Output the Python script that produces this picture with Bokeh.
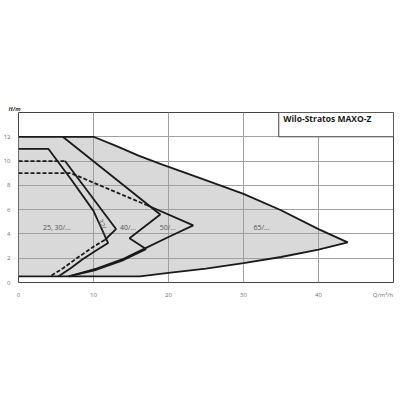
from bokeh.plotting import figure
from bokeh.models import Range1d, FixedTicker, Title
from bokeh.core.properties import value
from bokeh.embed import file_html
from bokeh.resources import INLINE

# Envelope of the whole range (grey area)
env_q = [0, 0, 10, 13, 16, 19, 24.4, 30, 35, 40, 43.9, 40, 35, 30, 25, 20, 16.2, 0]
env_h = [0.5, 12, 12, 11.25, 10.45, 9.75, 8.55, 7.3, 5.95, 4.4, 3.3, 2.7, 2.1, 1.6, 1.15, 0.8, 0.5, 0.5]

# 25, 30/... (Hmax 11)
c25_q = [0, 4, 7, 10, 11.95, 10.5, 8.5, 7, 5.3]
c25_h = [11, 11, 8.5, 5.9, 3.25, 2.7, 1.9, 1.2, 0.5]

# 32/... (Hmax 10)
c32_top_q = [0, 6.2]
c32_top_h = [10, 10]
c32_mid_q = [6.2, 13, 11.5]
c32_mid_h = [10, 4.4, 3.5]
c32_low_q = [11.5, 10, 8, 6, 4.2]
c32_low_h = [3.5, 2.95, 2.1, 1.2, 0.5]

# 40/... (Hmax 12)
c40_q = [5.9, 18.9, 14.8, 17, 14, 10.4, 6.7]
c40_h = [12, 5.6, 3.65, 2.75, 1.85, 1.05, 0.5]

# 50/... (Hmax 9)
c50_top_q = [0, 7, 17]
c50_top_h = [9, 9, 6.4]
c50_q = [17, 23.3, 20, 17, 14, 10.4, 6.7]
c50_h = [6.4, 4.7, 3.75, 2.85, 1.95, 1.15, 0.5]

x_ticks = [0, 10, 20, 30, 40]
y_ticks = [0, 2, 4, 6, 8, 10, 12]

labels = ["25, 30/...", "40/...", "50/...", "65/..."]
label_q = [5.1, 14.6, 19.9, 32.4]
label_h = [4.55, 4.55, 4.55, 4.55]

title_text = "Wilo-Stratos MAXO-Z"
x_name = "Q/m³/h"
y_name = "H/m"
x_name_pos = 48.6

FONT = "Open Sans"
BLACK = "#1a1a1a"

p = figure(frame_width=375, frame_height=170, output_backend="svg",
           toolbar_location=None, x_range=Range1d(0, 50), y_range=Range1d(0, 14),
           min_border_left=0, min_border_right=4, min_border_top=112,
           min_border_bottom=14)
p.outline_line_color = "#444444"
p.outline_line_width = 1
p.background_fill_color = "white"

p.xaxis.ticker = FixedTicker(ticks=x_ticks + [x_name_pos])
p.xaxis.major_label_overrides = {x_name_pos: x_name}
p.yaxis.ticker = FixedTicker(ticks=y_ticks)
for ax in (p.xaxis, p.yaxis):
    ax.axis_line_color = None
    ax.major_tick_line_color = None
    ax.minor_tick_line_color = None
    ax.major_label_text_font_size = "6px"
    ax.major_label_text_color = "#707070"
    ax.major_label_text_font = FONT
    ax.major_label_standoff = 2
p.xgrid.ticker = FixedTicker(ticks=x_ticks)
p.ygrid.ticker = FixedTicker(ticks=y_ticks)
p.grid.grid_line_color = "#a0a0a0"
p.grid.grid_line_width = 1

p.add_layout(Title(text=y_name, align="left", offset=-10, standoff=0,
                   text_font=FONT, text_font_size="6px", text_font_style="bold italic",
                   text_color="#333333"), "above")

# grey envelope beneath grid
p.patch(env_q, env_h, fill_color="#d9d9d9", line_color=None, level="image")
p.line(env_q[1:], env_h[1:], line_color=BLACK, line_width=1.8)

p.line(c25_q, c25_h, line_color=BLACK, line_width=1.8)
p.line(c32_top_q, c32_top_h, line_color=BLACK, line_width=1.8, line_dash="4 2")
p.line(c32_mid_q, c32_mid_h, line_color=BLACK, line_width=1.8)
p.line(c32_low_q, c32_low_h, line_color=BLACK, line_width=1.8, line_dash="4 2")
p.line(c40_q, c40_h, line_color=BLACK, line_width=1.8)
p.line(c50_top_q, c50_top_h, line_color=BLACK, line_width=1.8, line_dash="4 2")
p.line(c50_q, c50_h, line_color=BLACK, line_width=1.8)

p.text(label_q, label_h, text=labels, text_font=value(FONT), text_font_size="7px",
       text_color="#555555", text_align="center", text_baseline="middle")
p.text([11.3], [4.6], text=["32/..."], angle=-66, angle_units="deg",
       text_font=value(FONT), text_font_size="7px", text_color="#555555",
       text_align="center", text_baseline="middle")

# title box
p.quad(left=[34.7], right=[50], bottom=[12], top=[14], fill_color="white",
       line_color="#444444", line_width=1)
p.text([35.3], [13.5], text=[title_text], text_font=value(FONT),
       text_font_size="8.5px", text_font_style="bold",
       text_color=BLACK, text_baseline="middle")

open("out.html", "w").write(file_html(p, INLINE))
